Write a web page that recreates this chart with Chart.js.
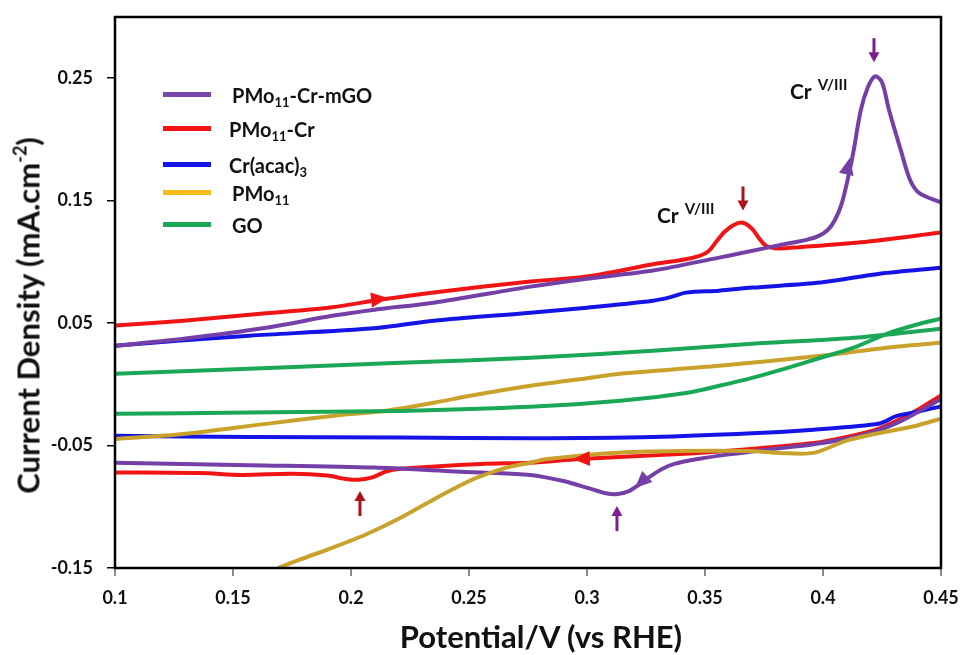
<!DOCTYPE html>
<html lang="en">
<head>
  <meta charset="UTF-8" />
  <title>Cyclic voltammograms</title>
  <script src="https://cdn.jsdelivr.net/npm/chart.js"></script>
  <style>
    * { margin: 0; padding: 0; box-sizing: border-box; }
    body { background: #fff; font-family: Lato, 'Open Sans', sans-serif; }
    .wrap { position: relative; width: 963px; height: 655px; }
    canvas { position: absolute; left: 0; top: 0; }
    .txt { position: absolute; font-weight: bold; color: #111; white-space: nowrap; line-height: 1; }
    .txt sub { font-size: 13px; vertical-align: -4px; }
    .mark { position: absolute; height: 5px; width: 48px; }
    .ytitle { width: 440px; text-align: center; font-size: 31px; transform: rotate(-90deg); }
    .xtitle { width: 440px; text-align: center; font-size: 31px; }
    .ann { font-size: 21px; }
    .ann sup { font-size: 15px; vertical-align: 9px; margin-left: 6px; }
  </style>
</head>
<body>
<div class="wrap" id="wrap">
  <canvas id="cv" width="963" height="655"></canvas>
  <div class="txt ytitle" style="left:-193px; top:299px;">Current Density (mA.cm<sup style="font-size:18px;vertical-align:13px">-2</sup>)</div>
  <div class="txt xtitle" style="left:321px; top:621px;">Potential/V (vs RHE)</div>
  <div class="txt ann" style="left:657px; top:201px;">Cr<sup>V/III</sup></div>
  <div class="txt ann" style="left:790px; top:77px;">Cr<sup>V/III</sup></div>
</div>
<script>
// axis ticks
const xTicks = [0.1, 0.15, 0.2, 0.25, 0.3, 0.35, 0.4, 0.45];
const xTickLabels = ['0.1', '0.15', '0.2', '0.25', '0.3', '0.35', '0.4', '0.45'];
const yTicks = [-0.15, -0.05, 0.05, 0.15, 0.25];
const yTickLabels = ['-0.15', '-0.05', '0.05', '0.15', '0.25'];

// [potential V, current density mA/cm2], forward and reverse scans
const mgoUp = [[0.100,0.0315],[0.129,0.0372],[0.164,0.0462],[0.192,0.0560],[0.210,0.0610],[0.235,0.0667],[0.276,0.0798],[0.300,0.0863],[0.328,0.0929],[0.356,0.1035],[0.365,0.1070],[0.385,0.1150],[0.393,0.1180],[0.398,0.1210],[0.402,0.1260],[0.405,0.1340],[0.408,0.1480],[0.411,0.172],[0.413,0.191],[0.416,0.2238],[0.419,0.2426],[0.422,0.2516],[0.425,0.2467],[0.428,0.2238],[0.433,0.191],[0.437,0.1665],[0.441,0.1559],[0.450,0.1485]];
const mgoDown = [[0.450,-0.012],[0.433,-0.030],[0.416,-0.042],[0.396,-0.049],[0.378,-0.053],[0.361,-0.057],[0.347,-0.061],[0.337,-0.065],[0.332,-0.069],[0.327,-0.075],[0.322,-0.082],[0.318,-0.087],[0.313,-0.0896],[0.308,-0.089],[0.301,-0.085],[0.290,-0.079],[0.276,-0.074],[0.255,-0.072],[0.242,-0.071],[0.210,-0.068],[0.157,-0.066],[0.100,-0.064]];
const crUp = [[0.100,0.048],[0.129,0.052],[0.164,0.058],[0.192,0.063],[0.212,0.069],[0.235,0.075],[0.276,0.084],[0.300,0.088],[0.328,0.098],[0.344,0.103],[0.351,0.108],[0.355,0.117],[0.358,0.124],[0.362,0.130],[0.366,0.132],[0.370,0.127],[0.373,0.119],[0.376,0.113],[0.381,0.111],[0.390,0.112],[0.416,0.116],[0.450,0.124]];
const crDown = [[0.450,-0.009],[0.439,-0.022],[0.424,-0.036],[0.410,-0.043],[0.396,-0.048],[0.368,-0.053],[0.339,-0.057],[0.297,-0.061],[0.276,-0.064],[0.255,-0.065],[0.221,-0.069],[0.215,-0.071],[0.209,-0.076],[0.203,-0.078],[0.197,-0.077],[0.190,-0.0745],[0.175,-0.073],[0.154,-0.074],[0.136,-0.0725],[0.100,-0.072]];
const acacUp = [[0.100,0.0315],[0.129,0.036],[0.157,0.0397],[0.211,0.046],[0.235,0.052],[0.276,0.0585],[0.300,0.0626],[0.328,0.0683],[0.335,0.071],[0.342,0.0749],[0.356,0.0765],[0.370,0.079],[0.399,0.0831],[0.424,0.0904],[0.450,0.0953]];
const acacDown = [[0.450,-0.018],[0.441,-0.022],[0.431,-0.026],[0.424,-0.032],[0.396,-0.037],[0.370,-0.040],[0.328,-0.043],[0.276,-0.044],[0.221,-0.0435],[0.157,-0.043],[0.100,-0.042]];
const pmoUp = [[0.100,-0.0446],[0.129,-0.0405],[0.164,-0.0323],[0.192,-0.0258],[0.214,-0.0217],[0.235,-0.0151],[0.250,-0.0095],[0.276,-0.0012],[0.300,0.005],[0.314,0.0086],[0.356,0.0151],[0.399,0.0233],[0.427,0.0299],[0.450,0.034]];
const pmoDown = [[0.450,-0.028],[0.439,-0.034],[0.424,-0.0397],[0.410,-0.046],[0.396,-0.056],[0.382,-0.056],[0.368,-0.0544],[0.339,-0.0544],[0.311,-0.056],[0.283,-0.061],[0.276,-0.064],[0.266,-0.068],[0.255,-0.075],[0.249,-0.080],[0.235,-0.094],[0.221,-0.109],[0.207,-0.122],[0.192,-0.1335],[0.178,-0.1434],[0.169,-0.150]];
const goUp = [[0.100,0.0086],[0.157,0.0127],[0.221,0.0176],[0.276,0.0217],[0.328,0.0274],[0.370,0.0331],[0.413,0.038],[0.450,0.0454]];
const goDown = [[0.450,0.0536],[0.441,0.0495],[0.427,0.0413],[0.413,0.0299],[0.399,0.0217],[0.385,0.0135],[0.370,0.0053],[0.356,-0.0012],[0.342,-0.007],[0.314,-0.0135],[0.276,-0.0184],[0.221,-0.0217],[0.157,-0.023],[0.100,-0.0241]];

const names = ['PMo<sub>11</sub>-Cr-mGO', 'PMo<sub>11</sub>-Cr', 'Cr(acac)<sub>3</sub>', 'PMo<sub>11</sub>', 'GO'];
const colors = ['#7440a8', '#f01414', '#1414e6', '#c9a22c', '#1aa857'];
const legendColors = ['#7a48a8', '#f01414', '#1414e6', '#f2bd1a', '#1aa857'];

// peak arrows: [x, tail y, tip y]
const peakArrows = [[0.3661, 0.1616, 0.142, '#b0101a'], [0.4216, 0.2827, 0.2631, '#7a1f8c'], [0.2038, -0.1076, -0.0872, '#b0101a'], [0.3127, -0.1199, -0.0994, '#7a1f8c']];
// scan direction heads: [tail x, tail y, tip x, tip y]
const scanArrows = [[0.2089, 0.069, 0.2157, 0.0705, '#f01414'], [0.4097, 0.170, 0.4114, 0.185, '#7440a8'], [0.301, -0.0605, 0.294, -0.061, '#f01414'], [0.3267, -0.0732, 0.3203, -0.0847, '#7440a8']];

function line(pts, color) {
  return {
    data: pts.map(p => ({ x: p[0], y: p[1] })),
    borderColor: color,
    borderWidth: 4,
    pointRadius: 0,
    showLine: true,
    tension: 0.3,
    fill: false
  };
}

function head(ctx, x0, y0, x1, y1, len, half, color) {
  const a = Math.atan2(y1 - y0, x1 - x0);
  ctx.fillStyle = color;
  ctx.beginPath();
  ctx.moveTo(x1, y1);
  ctx.lineTo(x1 - len * Math.cos(a) + half * Math.sin(a), y1 - len * Math.sin(a) - half * Math.cos(a));
  ctx.lineTo(x1 - len * Math.cos(a) - half * Math.sin(a), y1 - len * Math.sin(a) + half * Math.cos(a));
  ctx.closePath();
  ctx.fill();
}

const extras = {
  id: 'extras',
  afterDatasetsDraw(chart) {
    const { ctx, chartArea: a, scales: { x, y } } = chart;
    ctx.save();
    peakArrows.forEach(p => {
      const px = x.getPixelForValue(p[0]);
      const t = y.getPixelForValue(p[1]), h = y.getPixelForValue(p[2]);
      const dir = Math.sign(h - t);
      ctx.strokeStyle = p[3];
      ctx.lineWidth = 3;
      ctx.beginPath();
      ctx.moveTo(px, t);
      ctx.lineTo(px, h - dir * 8);
      ctx.stroke();
      head(ctx, px, t, px, h, 10, 5.5, p[3]);
    });
    scanArrows.forEach(s => {
      head(ctx, x.getPixelForValue(s[0]), y.getPixelForValue(s[1]), x.getPixelForValue(s[2]), y.getPixelForValue(s[3]), 17, 7.5, s[4]);
    });
    ctx.strokeStyle = '#000';
    ctx.lineWidth = 2.5;
    ctx.strokeRect(a.left, a.top, a.right - a.left, a.bottom - a.top);
    ctx.restore();
  }
};

const series = [[mgoUp, mgoDown], [crUp, crDown], [acacUp, acacDown], [pmoUp, pmoDown], [goUp, goDown]];
const drawOrder = [4, 3, 0, 2, 1];
const datasets = [];
drawOrder.forEach(i => {
  datasets.push(line(series[i][0], colors[i]));
  datasets.push(line(series[i][1], colors[i]));
});

const tickFont = { family: 'Lato', size: 18, weight: 'bold' };

new Chart(document.getElementById('cv'), {
  type: 'scatter',
  data: { datasets: datasets },
  options: {
    responsive: false,
    animation: false,
    layout: { padding: { top: 17, right: 22, left: 0, bottom: 0 } },
    plugins: { legend: { display: false }, tooltip: { enabled: false } },
    scales: {
      x: {
        min: 0.1, max: 0.45,
        afterBuildTicks: s => { s.ticks = xTicks.map(v => ({ value: v })); },
        afterFit: s => { s.height = 87; s.paddingLeft = 0; s.paddingRight = 0; },
        ticks: { color: '#111', font: tickFont, padding: 11, maxRotation: 0, callback: (v, i) => xTickLabels[i] },
        grid: { drawOnChartArea: false, drawTicks: true, tickLength: 8, color: '#8a8a8a', lineWidth: 2 },
        border: { display: false }
      },
      y: {
        min: -0.15, max: 0.3,
        afterBuildTicks: s => { s.ticks = yTicks.map(v => ({ value: v })); },
        afterFit: s => { s.width = 115; s.paddingTop = 0; s.paddingBottom = 0; },
        ticks: { color: '#111', font: tickFont, padding: 14, callback: (v, i) => yTickLabels[i] },
        grid: { drawOnChartArea: false, drawTicks: true, tickLength: 8, color: '#000', lineWidth: 1.5 },
        border: { display: false }
      }
    }
  },
  plugins: [extras]
});

// legend inside the plot, upper left
const rows = [94, 128, 164, 192, 224];
const textLeft = [232, 229, 229, 232, 232];
const wrap = document.getElementById('wrap');
names.forEach((n, i) => {
  const m = document.createElement('div');
  m.className = 'mark';
  m.style.left = '163px';
  m.style.top = (rows[i] - 2.5) + 'px';
  m.style.background = legendColors[i];
  wrap.appendChild(m);
  const t = document.createElement('div');
  t.className = 'txt';
  t.style.fontSize = '20px';
  t.style.left = textLeft[i] + 'px';
  t.style.top = (rows[i] - 9) + 'px';
  t.innerHTML = n;
  wrap.appendChild(t);
});
</script>
</body>
</html>
